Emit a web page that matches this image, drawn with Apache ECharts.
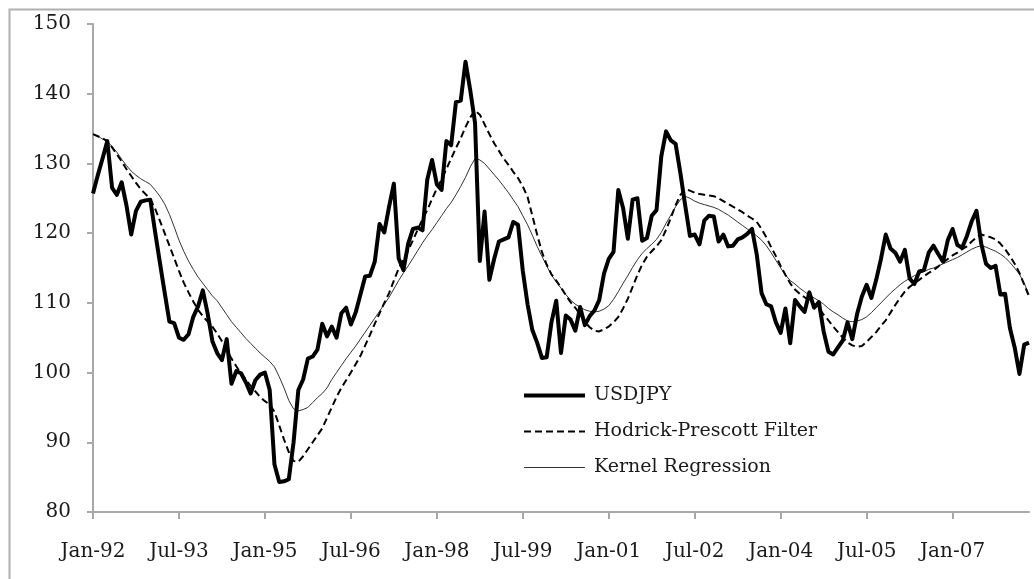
<!DOCTYPE html>
<html>
<head>
<meta charset="utf-8">
<script src="https://cdn.jsdelivr.net/npm/echarts@6/dist/echarts.min.js"></script>
<style>
html,body{margin:0;padding:0;background:#fff;}
#chart{width:1034px;height:579px;}
</style>
</head>
<body>
<div id="chart"></div>
<script>
// Monthly categories Jan-92 .. May-08
var monthNames = ['Jan','Feb','Mar','Apr','May','Jun','Jul','Aug','Sep','Oct','Nov','Dec'];
var categories = [];
for (var yr = 1992; yr <= 2008; yr++) {
  for (var mo = 0; mo < 12; mo++) {
    if (yr === 2008 && mo > 4) break;
    categories.push(monthNames[mo] + '-' + String(yr).slice(2));
  }
}

var seriesNames = ['USDJPY', 'Hodrick-Prescott Filter', 'Kernel Regression'];

var usdjpy = [
  125.7, 128.3, 130.7, 133.2, 126.5, 125.5, 127.3, 124.0, 119.8, 123.2, 124.5, 124.7,
  124.8, 120.2, 115.8, 111.5, 107.3, 107.1, 105.0, 104.7, 105.5, 108.0, 109.5, 111.8,
  108.5, 104.5, 102.8, 101.8, 104.8, 98.4, 100.2, 99.9, 98.6, 97.0, 98.9, 99.7,
  100.0, 97.5, 86.8, 84.3, 84.4, 84.7, 90.0, 97.5, 99.0, 102.0, 102.3, 103.3,
  107.0, 105.2, 106.6, 105.0, 108.5, 109.3, 106.9, 108.6, 111.2, 113.8, 113.9, 115.9,
  121.3, 120.1, 123.8, 127.1, 116.4, 114.7, 118.5, 120.6, 120.8, 120.4, 127.7, 130.5,
  127.0, 126.2, 133.2, 132.6, 138.8, 139.0, 144.6, 140.5, 135.8, 116.0, 123.1, 113.3,
  116.3, 118.8, 119.1, 119.4, 121.6, 121.2, 114.6, 109.8, 106.1, 104.3, 102.1, 102.2,
  107.2, 110.3, 102.8, 108.2, 107.6, 106.0, 109.4, 106.8, 108.1, 108.9, 110.4, 114.2,
  116.3, 117.3, 126.2, 123.6, 119.2, 124.8, 125.0, 118.9, 119.3, 122.5, 123.3, 131.0,
  134.6, 133.3, 132.8, 128.6, 124.0, 119.6, 119.8, 118.4, 121.8, 122.5, 122.4, 118.8,
  119.8, 118.1, 118.2, 119.1, 119.4, 119.9, 120.6, 116.9, 111.4, 109.8, 109.5, 107.2,
  105.7, 109.2, 104.2, 110.4, 109.5, 108.7, 111.5, 109.3, 110.1, 105.9, 103.0, 102.6,
  103.6, 104.6, 107.2, 104.8, 108.4, 110.9, 112.6, 110.7, 113.3, 116.3, 119.8, 117.8,
  117.2, 115.9, 117.6, 113.5, 112.7, 114.5, 114.7, 117.2, 118.2, 117.0, 115.9, 119.0,
  120.6, 118.3, 117.9, 119.6, 121.7, 123.2, 118.5, 115.6, 115.0, 115.3, 111.2, 111.3,
  106.4, 103.6, 99.8, 104.0, 104.3
];

var hpFilter = [
  134.2, 133.9, 133.6, 133.2, 132.3, 131.3, 130.3, 129.2, 128.2, 127.2, 126.3, 125.6,
  124.9, 123.5, 121.8, 120.0, 118.2, 116.4, 114.6, 112.9, 111.5, 110.2, 109.0, 108.1,
  107.3, 106.6, 105.6, 104.5, 103.3, 102.0, 100.9, 99.9, 99.0, 98.1, 97.3, 96.5,
  95.9, 95.4, 94.4, 92.4, 90.4, 88.6, 87.3, 87.2, 88.0, 89.0, 90.0, 91.0,
  92.0, 93.5, 95.0, 96.5, 97.8, 98.9, 100.0, 101.2, 102.4, 103.9, 105.4, 107.0,
  108.5, 110.0, 111.4, 113.2, 114.9, 116.2, 117.5, 119.0, 120.5, 122.0, 123.3, 124.9,
  126.4, 127.7, 129.2, 130.7, 132.2, 133.6, 135.2, 136.6, 137.6, 137.0, 135.6, 134.2,
  132.9, 131.8, 130.7, 129.8, 128.8, 127.9, 126.7, 125.2, 122.5, 119.8, 117.3, 115.5,
  114.1, 113.2, 112.2, 111.1, 110.1, 109.3, 108.3, 107.3, 106.5, 106.0, 105.9, 106.2,
  106.6, 107.2, 108.0, 109.2, 110.6, 112.3, 114.0, 115.5, 116.6, 117.4, 118.1, 119.0,
  120.5, 122.2, 124.0, 125.5, 126.3, 126.1, 125.8, 125.6, 125.5, 125.4, 125.3, 125.0,
  124.6, 124.2, 123.8, 123.4, 123.0, 122.5, 122.1, 121.6, 120.6, 119.4, 118.0, 116.7,
  115.3, 114.0, 112.8, 111.9, 111.3, 110.8, 110.3, 109.8, 109.2, 108.3, 107.5, 106.6,
  105.8, 105.0, 104.3, 103.9, 103.7, 103.8, 104.4, 105.1, 105.8, 106.7, 107.5, 108.6,
  109.7, 110.7, 111.6, 112.3, 112.8, 113.3, 113.8, 114.3, 114.7, 115.2, 115.8, 116.3,
  116.8, 117.2, 117.7, 118.1, 118.8, 119.4, 119.8, 119.6, 119.4, 119.1, 118.5, 117.7,
  116.7, 115.6, 114.3, 112.6, 110.9
];

var kernelReg = [
  134.2, 133.9, 133.5, 133.2, 132.4, 131.6, 130.6, 129.7, 128.9, 128.3, 127.8, 127.4,
  127.0, 126.2, 125.3, 124.2, 122.7, 120.9, 119.0, 117.4, 116.0, 114.8, 113.7, 112.8,
  111.9, 111.0, 110.3, 109.3, 108.3, 107.3, 106.5, 105.7, 104.9, 104.2, 103.5, 102.8,
  102.2, 101.6, 100.8, 99.4, 97.8, 96.0, 94.8, 94.5, 94.7, 95.0, 95.7, 96.4,
  97.0, 97.8, 99.0, 100.0, 101.0, 102.0, 102.9, 103.8, 104.8, 105.8, 106.8, 107.8,
  108.8, 109.8, 110.8, 112.0, 113.2, 114.3, 115.3, 116.4, 117.5, 118.6, 119.6, 120.5,
  121.5, 122.5, 123.5, 124.4, 125.5, 126.7, 128.0, 129.5, 130.7, 130.5, 130.0, 129.2,
  128.4, 127.6, 126.7, 125.8, 124.8, 123.8, 122.5, 121.2, 119.7, 118.1, 116.7, 115.3,
  114.0, 113.0, 112.1, 111.2, 110.4, 109.8, 109.4, 109.0, 108.8, 108.7, 108.8, 109.1,
  109.6, 110.5, 111.6, 112.8, 113.9, 115.1, 116.2, 117.1, 117.8, 118.4, 119.1, 120.1,
  121.4, 122.6, 123.8, 124.8, 125.3, 125.0, 124.6, 124.3, 124.1, 123.9, 123.7, 123.4,
  123.0, 122.6, 122.1, 121.6, 121.1, 120.6, 120.1, 119.6, 119.0, 118.2, 117.2, 116.1,
  115.0, 114.0, 113.2, 112.7, 112.1, 111.6, 111.1, 110.7, 110.3, 109.8, 109.2, 108.7,
  108.3, 107.8, 107.4, 107.3, 107.4, 107.6, 108.0, 108.6, 109.3, 110.0, 110.7, 111.4,
  112.0, 112.6, 113.1, 113.5, 113.9, 114.2, 114.5, 114.8, 115.0, 115.3, 115.6, 115.9,
  116.2, 116.5, 116.9, 117.3, 117.7, 118.0, 118.2, 118.0, 117.7, 117.4, 117.0, 116.5,
  115.8, 115.0, 114.1, 112.8, 111.2
];

var yMin = 80, yMax = 150, yStep = 10;
var labelEvery = 18;

var FONT = 'DejaVu Serif';
var chart = echarts.init(document.getElementById('chart'), null, {renderer: 'canvas'});
chart.setOption({
  animation: false,
  backgroundColor: '#ffffff',
  graphic: [{
    type: 'rect',
    left: 7, top: 7,
    shape: {width: 1200, height: 800},
    style: {fill: 'none', stroke: '#b0b0b0', lineWidth: 2},
    silent: true, z: 0
  }],
  grid: {left: 93, right: 5, top: 24, bottom: 67, containLabel: false},
  legend: {
    orient: 'vertical',
    left: 517, top: 381,
    itemWidth: 61, itemHeight: 14, itemGap: 17,
    data: [
      {name: seriesNames[0], lineStyle: {width: 4, color: '#000'}},
      {name: seriesNames[1], lineStyle: {width: 2, color: '#000', type: [7, 4]}},
      {name: seriesNames[2], lineStyle: {width: 1, color: '#333'}}
    ],
    itemStyle: {opacity: 0},
    textStyle: {fontFamily: FONT, fontSize: 19, color: '#1a1a1a', padding: [0, 0, 0, 4]}
  },
  xAxis: {
    type: 'category',
    data: categories,
    boundaryGap: false,
    axisLine: {lineStyle: {color: '#a8a8a8', width: 2}},
    axisTick: {interval: labelEvery - 1, length: 7, lineStyle: {color: '#a8a8a8', width: 2}},
    axisLabel: {interval: labelEvery - 1, margin: 30, fontFamily: FONT, fontSize: 20, color: '#1a1a1a'},
    splitLine: {show: false}
  },
  yAxis: {
    type: 'value',
    min: yMin, max: yMax, interval: yStep,
    axisLine: {show: true, lineStyle: {color: '#a8a8a8', width: 2}},
    axisTick: {show: true, length: 6, lineStyle: {color: '#a8a8a8', width: 2}},
    axisLabel: {margin: 22, fontFamily: FONT, fontSize: 20, color: '#1a1a1a'},
    splitLine: {show: false}
  },
  series: [
    {
      name: seriesNames[0], type: 'line', data: usdjpy, symbol: 'none', z: 4,
      lineStyle: {color: '#000', width: 4, join: 'round'},
      itemStyle: {color: '#000'}
    },
    {
      name: seriesNames[1], type: 'line', data: hpFilter, symbol: 'none', z: 3,
      lineStyle: {color: '#000', width: 2, type: [7, 4]},
      itemStyle: {color: '#000'}
    },
    {
      name: seriesNames[2], type: 'line', data: kernelReg, symbol: 'none', z: 2,
      lineStyle: {color: '#333', width: 1},
      itemStyle: {color: '#333'}
    }
  ]
});
</script>
</body>
</html>
